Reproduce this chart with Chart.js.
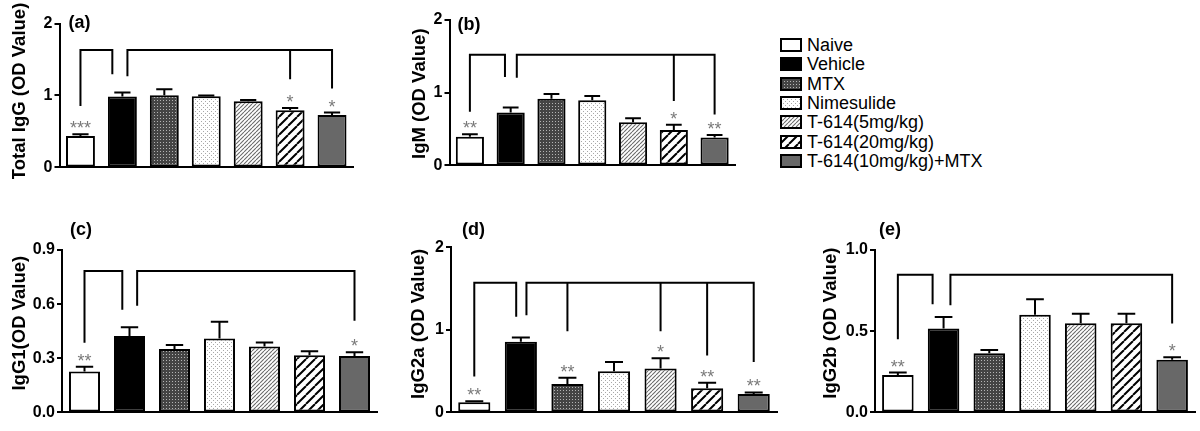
<!DOCTYPE html>
<html><head><meta charset="utf-8">
<script src="https://cdn.jsdelivr.net/npm/chart.js@4.4.1/dist/chart.umd.min.js"></script>
<style>
html,body{margin:0;padding:0;background:#fff;width:1200px;height:431px;overflow:hidden;font-family:'Liberation Sans',Arial,sans-serif;}
.panel{position:absolute;}
.row{position:absolute;left:780px;height:20px;white-space:nowrap;font-size:18px;line-height:20px;color:#000;}
.row canvas{position:absolute;left:0;top:3px;}
.row span{position:absolute;left:27px;top:0;}
</style></head><body>
<script>
// ---------- data ----------
const groups = ['Naive','Vehicle','MTX','Nimesulide','T-614(5mg/kg)','T-614(20mg/kg)','T-614(10mg/kg)+MTX'];

const totalIgG      = [0.436, 0.987, 1.004, 0.990, 0.920, 0.795, 0.727];
const totalIgGSem   = [0.024, 0.053, 0.081, 0.010, 0.017, 0.031, 0.035];
const totalIgGStars = ['***','','','','','*','*'];
const totalIgGTicks = [0, 1, 2];
const totalIgGBrackets = [
  {y: 1.63, legs: [[0, 0.866], [0.76, 1.31]]},
  {y: 1.63, legs: [[1.12, 1.28], [5, 1.24], [6, 1.11]]}
];

const igM      = [0.394, 0.726, 0.916, 0.895, 0.594, 0.487, 0.385];
const igMSem   = [0.036, 0.071, 0.067, 0.061, 0.053, 0.071, 0.032];
const igMStars = ['**','','','','','*','**'];
const igMTicks = [0, 1, 2];
const igMBrackets = [
  {y: 1.523, legs: [[0, 0.753], [0.86, 1.231]]},
  {y: 1.523, legs: [[1.15, 1.218], [5, 0.899], [6, 0.713]]}
];

const igG1      = [0.226, 0.424, 0.351, 0.410, 0.365, 0.317, 0.313];
const igG1Sem   = [0.027, 0.048, 0.023, 0.093, 0.023, 0.022, 0.020];
const igG1Stars = ['**','','','','','','*'];
const igG1Ticks = [0, 0.3, 0.6, 0.9];
const igG1Brackets = [
  {y: 0.784, legs: [[0, 0.392], [0.84, 0.574]]},
  {y: 0.784, legs: [[1.17, 0.597], [6, 0.513]]}
];

const igG2a      = [0.124, 0.857, 0.343, 0.498, 0.533, 0.292, 0.222];
const igG2aSem   = [0.012, 0.051, 0.078, 0.114, 0.122, 0.066, 0.019];
const igG2aStars = ['**','','**','','*','**','**'];
const igG2aTicks = [0, 1, 2];
const igG2aBrackets = [
  {y: 1.571, legs: [[0, 0.448], [0.9, 1.17]]},
  {y: 1.571, legs: [[1.12, 1.188], [2, 0.994], [4, 0.994], [5, 0.702], [6, 0.623]]}
];

const igG2b      = [0.231, 0.517, 0.364, 0.602, 0.549, 0.549, 0.324];
const igG2bSem   = [0.014, 0.070, 0.020, 0.094, 0.059, 0.059, 0.016];
const igG2bStars = ['**','','','','','','*'];
const igG2bTicks = [0, 0.5, 1.0];
const igG2bBrackets = [
  {y: 0.847, legs: [[0, 0.457], [0.76, 0.672]]},
  {y: 0.847, legs: [[1.15, 0.666], [6, 0.553]]}
];

// ---------- fills ----------
function tile(size, draw){
  const c = document.createElement('canvas'); c.width = size; c.height = size;
  const g = c.getContext('2d'); draw(g, size); return c;
}
function diag(bg, fg, lw){
  return (g, s) => {
    g.fillStyle = bg; g.fillRect(0,0,s,s);
    g.strokeStyle = fg; g.lineWidth = lw; g.beginPath();
    for (let k=-1;k<=1;k++){ g.moveTo(k*s, s); g.lineTo(k*s+s, 0); }
    g.stroke();
  };
}
const tiles = [
  null,
  null,
  tile(3, (g,s)=>{ g.fillStyle='#444'; g.fillRect(0,0,s,s); g.fillStyle='#b4b4b4'; g.fillRect(1,1,1,1); }),
  tile(4, (g,s)=>{ g.fillStyle='#fff'; g.fillRect(0,0,s,s); g.fillStyle='#a8a8a8'; g.fillRect(1,1,1,1); g.fillRect(3,3,1,1); }),
  tile(4, diag('#fff', '#6a6a6a', 1.1)),
  tile(9, diag('#fff', '#000', 2)),
  null
];
const solid = ['#ffffff', '#000000', null, null, null, null, '#686868'];
function fillFor(ctx, i){ return tiles[i] ? ctx.createPattern(tiles[i], 'repeat') : solid[i]; }

Chart.defaults.font.family = "'Liberation Sans', Arial, sans-serif";

// ---------- panels ----------
const panels = [
  {title:'Total IgG (OD Value)', label:'(a)', values:totalIgG, sem:totalIgGSem, stars:totalIgGStars, ticks:totalIgGTicks, dec:0, brackets:totalIgGBrackets,
   box:{left:0, top:0, axisX:59.5, topY:23.5, bottomY:172.5, rightX:353}, titleX:20, titleDY:-4, labelDX:9, labelDY:0},
  {title:'IgM (OD Value)', label:'(b)', values:igM, sem:igMSem, stars:igMStars, ticks:igMTicks, dec:0, brackets:igMBrackets,
   box:{left:380, top:0, axisX:449.5, topY:20, bottomY:170.7, rightX:735}, titleX:419.5, titleDY:1, labelDX:8, labelDY:5},
  {title:'IgG1(OD Value)', label:'(c)', values:igG1, sem:igG1Sem, stars:igG1Stars, ticks:igG1Ticks, dec:1, brackets:igG1Brackets,
   box:{left:0, top:215, axisX:62, topY:250, bottomY:418.3, rightX:377}, titleX:19.5, titleDY:-8, labelDX:8, labelDY:-20},
  {title:'IgG2a (OD Value)', label:'(d)', values:igG2a, sem:igG2aSem, stars:igG2aStars, ticks:igG2aTicks, dec:0, brackets:igG2aBrackets,
   box:{left:400, top:215, axisX:451, topY:247.3, bottomY:418.3, rightX:777}, titleX:418.5, titleDY:-6, labelDX:11, labelDY:-17},
  {title:'IgG2b (OD Value)', label:'(e)', values:igG2b, sem:igG2bSem, stars:igG2bStars, ticks:igG2bTicks, dec:1, brackets:igG2bBrackets,
   box:{left:800, top:215, axisX:875, topY:250, bottomY:417.7, rightX:1195}, titleX:831, titleDY:-8, labelDX:4, labelDY:-20}
];

const FONT = "'Liberation Sans', Arial, sans-serif";

function makeChart(p){
  const b = p.box;
  const W = Math.round(b.rightX - b.left + 3), H = Math.round(b.bottomY - b.top + 6);
  const div = document.createElement('div'); div.className = 'panel';
  div.style.left = b.left+'px'; div.style.top = b.top+'px'; div.style.width = W+'px'; div.style.height = H+'px';
  const cv = document.createElement('canvas'); cv.width = W; cv.height = H;
  div.appendChild(cv); document.body.appendChild(div);
  const ctx0 = cv.getContext('2d');
  const annot = {
    id:'annot',
    afterDatasetsDraw(chart){
      const ctx = chart.ctx, xs = chart.scales.x, ys = chart.scales.y;
      const meta = chart.getDatasetMeta(0);
      const ca = chart.chartArea;
      ctx.save();
      ctx.strokeStyle = '#000'; ctx.lineWidth = 2; ctx.lineCap = 'butt';
      meta.data.forEach((el, i) => {
        const t = ys.getPixelForValue(p.values[i] + p.sem[i]);
        const hw = el.width * 0.28;
        ctx.beginPath();
        ctx.moveTo(el.x, el.y); ctx.lineTo(el.x, t);
        ctx.moveTo(el.x - hw, t); ctx.lineTo(el.x + hw, t);
        ctx.stroke();
      });
      ctx.lineCap = 'square';
      p.brackets.forEach(br => {
        const yh = ys.getPixelForValue(br.y);
        const px = br.legs.map(l => xs.getPixelForValue(l[0]));
        ctx.beginPath();
        ctx.moveTo(Math.min(...px), yh); ctx.lineTo(Math.max(...px), yh);
        br.legs.forEach((l, k) => { ctx.moveTo(px[k], yh); ctx.lineTo(px[k], ys.getPixelForValue(l[1])); });
        ctx.stroke();
      });
      ctx.fillStyle = '#7a7a7a'; ctx.font = "18px " + FONT;
      ctx.textAlign = 'center'; ctx.textBaseline = 'middle';
      p.stars.forEach((s, i) => {
        if (!s) return;
        const t = ys.getPixelForValue(p.values[i] + p.sem[i]);
        ctx.fillText(s, meta.data[i].x, t - 5);
      });
      ctx.fillStyle = '#000'; ctx.font = "bold 18px " + FONT;
      ctx.textAlign = 'left';
      ctx.fillText(p.label, ca.left + p.labelDX, ca.top + p.labelDY);
      // axis title
      ctx.translate(p.titleX - b.left, (ca.top + ca.bottom) / 2 + p.titleDY);
      ctx.rotate(-Math.PI / 2);
      ctx.textAlign = 'center'; ctx.textBaseline = 'middle';
      ctx.font = "bold 18.5px " + FONT;
      ctx.fillText(p.title, 0, 0);
      ctx.restore();
    }
  };
  new Chart(cv, {
    type:'bar',
    data:{ labels:groups, datasets:[{
      data:p.values,
      backgroundColor: groups.map((g,i) => fillFor(ctx0, i)),
      borderColor:'#000', borderWidth:2, borderSkipped:false,
      barPercentage:0.69, categoryPercentage:1
    }]},
    options:{
      responsive:false, animation:false,
      layout:{ padding:{ left:0, right:3, top:b.topY - b.top, bottom:6 } },
      plugins:{ legend:{display:false}, tooltip:{enabled:false} },
      scales:{
        x:{ type:'category', afterFit:s => { s.height = 0; },
            grid:{display:false}, ticks:{display:false},
            border:{display:true, color:'#000', width:2} },
        y:{ min:0, max:p.ticks[p.ticks.length-1],
            afterBuildTicks:s => { s.ticks = p.ticks.map(v => ({value:v})); },
            afterFit:s => { s.width = b.axisX - b.left; },
            ticks:{ color:'#000', padding:2, font:{size:16, weight:'bold'},
                    callback:v => Number(v).toFixed(p.dec) },
            grid:{ display:true, drawOnChartArea:false, drawTicks:true, tickLength:5, color:'#000', lineWidth:2 },
            border:{ display:true, color:'#000', width:2 },
            title:{ display:false, text:p.title } }
      }
    },
    plugins:[annot]
  });
}
panels.forEach(makeChart);

// ---------- legend ----------
groups.forEach((g, i) => {
  const row = document.createElement('div'); row.className = 'row';
  row.style.top = (35 + i*19.3) + 'px';
  const c = document.createElement('canvas'); c.width = 22; c.height = 14;
  const x = c.getContext('2d');
  x.fillStyle = fillFor(x, i); x.fillRect(1,1,20,12);
  x.strokeStyle = '#000'; x.lineWidth = 2; x.strokeRect(1,1,20,12);
  const sp = document.createElement('span'); sp.textContent = g;
  row.appendChild(c); row.appendChild(sp); document.body.appendChild(row);
});
</script>
</body></html>
